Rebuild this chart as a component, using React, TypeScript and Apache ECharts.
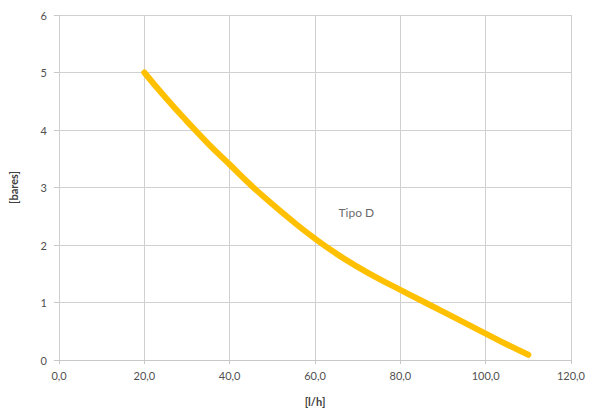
import React, { useEffect, useRef } from "react";
import * as echarts from "echarts";

const flowValues = [20, 25, 30, 35, 40, 45, 50, 55, 60, 65, 70, 75, 80, 85, 90, 95, 100, 105, 110];
const pressureValues = [5.0, 4.56, 4.15, 3.76, 3.4, 3.04, 2.71, 2.4, 2.11, 1.85, 1.62, 1.41, 1.22, 1.03, 0.84, 0.65, 0.46, 0.27, 0.09];
const xTickLabels = ["0,0", "20,0", "40,0", "60,0", "80,0", "100,0", "120,0"];
const yTickLabels = ["0", "1", "2", "3", "4", "5", "6"];
const seriesName = "Tipo D";
const labelAnchor = [69.7, 2.57];
const xAxisTitle = "[l/h]";
const yAxisTitle = "[bares]";

export default function App() {
  const ref = useRef<HTMLDivElement>(null);
  useEffect(() => {
    if (!ref.current) return;
    const chart = echarts.init(ref.current, null, { renderer: "svg" });
    const font = "Lato, 'Open Sans', 'Liberation Sans', sans-serif";
    chart.setOption({
      animation: false,
      backgroundColor: "#ffffff",
      grid: { left: 58, right: 26, top: 15, bottom: 52 },
      xAxis: {
        type: "value",
        min: 0,
        max: 120,
        interval: 20,
        name: xAxisTitle,
        nameLocation: "middle",
        nameGap: 36,
        nameTextStyle: { color: "#404040", fontSize: 11, fontWeight: "bold", fontFamily: font },
        axisLine: { show: true, lineStyle: { color: "#c8c8c8" } },
        axisTick: { show: true, length: 4, lineStyle: { color: "#c8c8c8" } },
        axisLabel: {
          color: "#505050",
          fontSize: 11,
          fontFamily: font,
          margin: 10,
          formatter: (v: number) => xTickLabels[Math.round(v / 20)] ?? "",
        },
        splitLine: { show: true, lineStyle: { color: "#d0d0d0", width: 1 } },
      },
      yAxis: {
        type: "value",
        min: 0,
        max: 6,
        interval: 1,
        name: yAxisTitle,
        nameLocation: "middle",
        nameGap: 40,
        nameRotate: 90,
        nameTextStyle: { color: "#404040", fontSize: 11, fontWeight: "bold", fontFamily: font },
        axisLine: { show: false },
        axisTick: { show: true, length: 5, lineStyle: { color: "#c8c8c8" } },
        axisLabel: {
          color: "#505050",
          fontSize: 11,
          fontFamily: font,
          margin: 12,
          formatter: (v: number) => yTickLabels[Math.round(v)] ?? "",
        },
        splitLine: { show: true, lineStyle: { color: "#d0d0d0", width: 1 } },
      },
      series: [
        {
          name: seriesName,
          type: "line",
          data: flowValues.map((x, i) => [x, pressureValues[i]]),
          smooth: 0.5,
          showSymbol: false,
          lineStyle: { color: "#FFC000", width: 6, cap: "round" },
        },
        {
          name: seriesName + " label",
          type: "scatter",
          data: [labelAnchor],
          symbolSize: 1,
          itemStyle: { color: "rgba(0,0,0,0)" },
          silent: true,
          label: {
            show: true,
            position: "inside",
            formatter: seriesName,
            color: "#404040",
            fontSize: 12,
            fontFamily: font,
          },
        },
      ],
    });
    return () => chart.dispose();
  }, []);
  return <div ref={ref} style={{ width: 597, height: 412, position: "absolute", left: 0, top: 0 }} />;
}
